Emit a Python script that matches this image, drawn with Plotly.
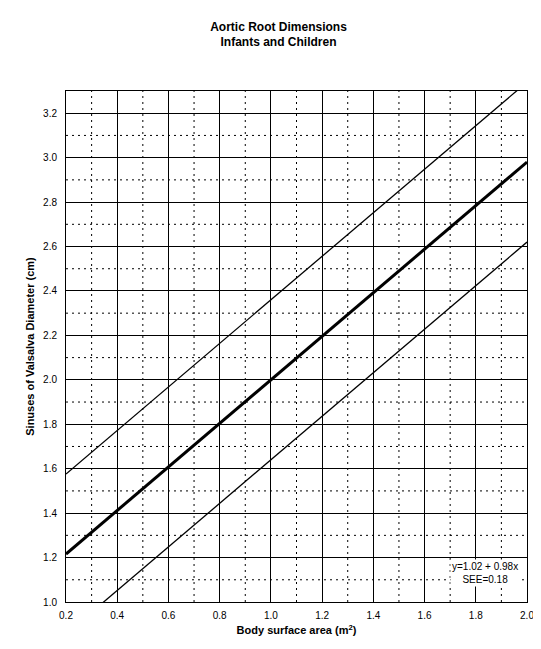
import plotly.graph_objects as go

bsa = [0.2, 2.0]
mean_line = [1.216, 2.98]
upper_line = [1.576, 3.34]
lower_line = [0.856, 2.62]
x_ticks = [0.2, 0.4, 0.6, 0.8, 1.0, 1.2, 1.4, 1.6, 1.8, 2.0]
y_ticks = [1.0, 1.2, 1.4, 1.6, 1.8, 2.0, 2.2, 2.4, 2.6, 2.8, 3.0, 3.2]

fig = go.Figure()
for xv in [0.3, 0.5, 0.7, 0.9, 1.1, 1.3, 1.5, 1.7, 1.9]:
    fig.add_shape(type="line", x0=xv, x1=xv, y0=1.0, y1=3.3, line=dict(color="black", width=1, dash="2px,4px"), layer="below")
for yv in [1.1, 1.3, 1.5, 1.7, 1.9, 2.1, 2.3, 2.5, 2.7, 2.9, 3.1]:
    fig.add_shape(type="line", x0=0.2, x1=2.0, y0=yv, y1=yv, line=dict(color="black", width=1, dash="2px,4px"), layer="below")
fig.add_trace(go.Scatter(x=bsa, y=upper_line, mode="lines", line=dict(color="black", width=1.3)))
fig.add_trace(go.Scatter(x=bsa, y=mean_line, mode="lines", line=dict(color="black", width=3)))
fig.add_trace(go.Scatter(x=bsa, y=lower_line, mode="lines", line=dict(color="black", width=1.3)))

fig.update_layout(
    width=541, height=649, showlegend=False,
    plot_bgcolor="white", paper_bgcolor="white",
    margin=dict(l=58, r=22, t=83, b=55),
    font=dict(family="Liberation Sans, Arial", size=10, color="black"),
    title=dict(text="<b>Aortic Root Dimensions<br>Infants and Children</b>", x=0.5, xanchor="center", y=0.965, yanchor="top", font=dict(size=12)),
    xaxis=dict(range=[0.2, 2.0], tickvals=x_ticks, ticktext=[f"{v:.1f}" for v in x_ticks], automargin=False,
               showgrid=True, gridcolor="black", gridwidth=1, showline=True, linecolor="black", mirror=True,
               zeroline=False, ticks="outside", ticklen=4, tickcolor="white",
               title=dict(text="<b>Body surface area (m<sup>2</sup>)</b>", standoff=6, font=dict(size=11))),
    yaxis=dict(range=[1.0, 3.3], tickvals=y_ticks, ticktext=[f"{v:.1f}" for v in y_ticks], automargin=False,
               showgrid=True, gridcolor="black", gridwidth=1, showline=True, linecolor="black", mirror=True,
               zeroline=False, ticks="outside", ticklen=6, tickcolor="white",
               title=dict(text="<b>Sinuses of Valsalva Diameter (cm)</b>", standoff=6, font=dict(size=11))),
)
fig.add_annotation(x=0.985, y=0.03, xref="paper", yref="paper", xanchor="right", yanchor="bottom",
                   text="y=1.02 + 0.98x<br>SEE=0.18", showarrow=False, align="center", bgcolor="white",
                   font=dict(size=10))
fig.write_html("out.html")
